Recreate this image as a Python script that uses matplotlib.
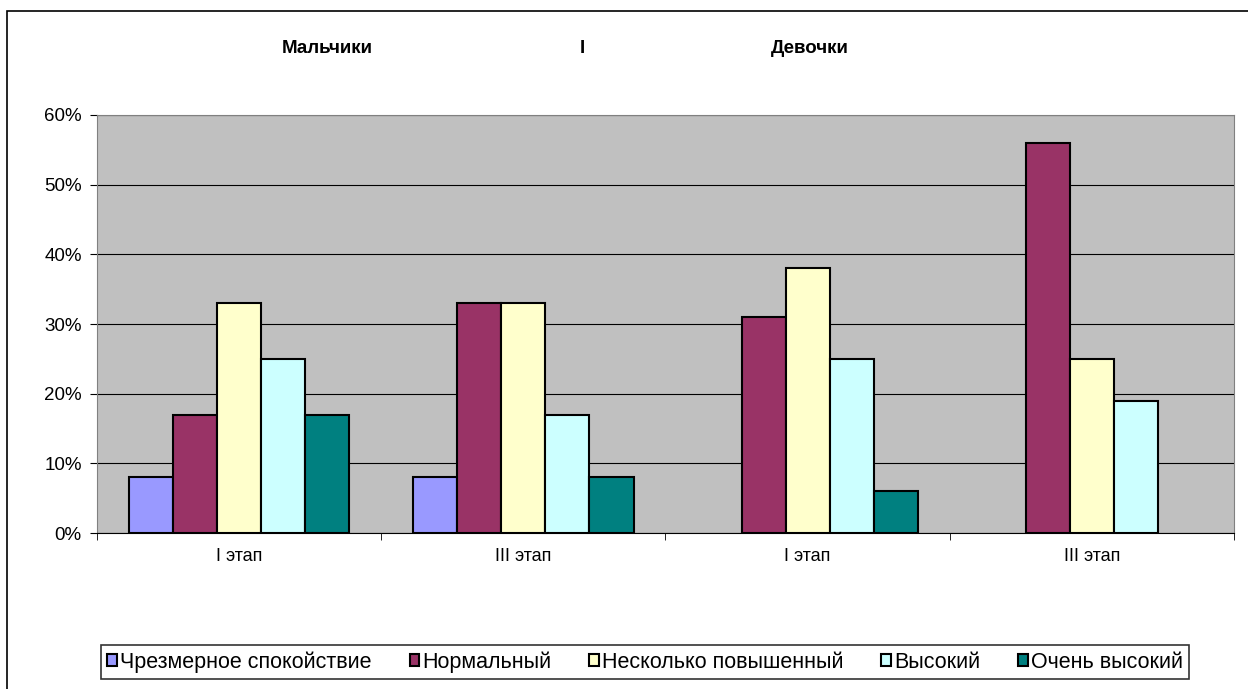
import numpy as np
import matplotlib.pyplot as plt
from matplotlib.patches import Rectangle
from matplotlib.ticker import FuncFormatter

plt.rcParams['font.family'] = ['Liberation Sans', 'DejaVu Sans']

# Категории и значения (в процентах)
categories = ["I этап", "III этап", "I этап", "III этап"]
series_names = ["Чрезмерное спокойствие", "Нормальный", "Несколько повышенный",
                "Высокий", "Очень высокий"]
calm = [8, 8, 0, 0]
normal = [17, 33, 31, 56]
slightly = [33, 33, 38, 25]
high = [25, 17, 25, 19]
very_high = [17, 8, 6, 0]
colors = ["#9999FF", "#993366", "#FFFFCC", "#CCFFFF", "#008080"]

fig = plt.figure(figsize=(12.48, 6.89), dpi=100)
# Рамка вокруг всей диаграммы (правый и нижний край за пределами картинки)
fig.patches.append(Rectangle((0.0056, -0.05), 1.1, 1.034, transform=fig.transFigure,
                             fill=False, edgecolor="black", linewidth=1.2))

ax = fig.add_axes([0.0777, 0.2264, 0.9111, 0.6067])
ax.set_facecolor("#C0C0C0")

x = np.arange(len(categories))
w = 0.155
all_series = [calm, normal, slightly, high, very_high]
for i, (vals, name, c) in enumerate(zip(all_series, series_names, colors)):
    # нулевые значения не рисуем
    h = np.where(np.array(vals) == 0, np.nan, vals)
    ax.bar(x + (i - 2) * w, h, w, color=c, edgecolor="black", linewidth=1.5,
           label=name, zorder=3)

ax.set_xlim(-0.5, len(categories) - 0.5)
ax.set_ylim(0, 60)
ax.set_yticks(range(0, 61, 10))
ax.yaxis.set_major_formatter(FuncFormatter(lambda v, p: "%d%%" % v))
ax.yaxis.grid(True, color="black", linewidth=0.8, zorder=1)
ax.set_xticks(x)
ax.set_xticklabels(categories)
ax.set_xticks(np.arange(-0.5, len(categories)), minor=True)
ax.tick_params(axis="x", which="major", length=0, pad=11, labelsize=13)
ax.tick_params(axis="x", which="minor", length=5, color="black")
ax.tick_params(axis="y", length=5, labelsize=13.5, pad=6)
for s in ["top", "right", "left"]:
    ax.spines[s].set_color("#808080")
ax.spines["bottom"].set_color("black")

fig.text(0.262, 0.93, "Мальчики", ha="center", va="center", fontsize=13.5, fontweight="bold")
fig.text(0.467, 0.93, "I", ha="center", va="center", fontsize=13.5, fontweight="bold")
fig.text(0.649, 0.93, "Девочки", ha="center", va="center", fontsize=13.5, fontweight="bold")

leg = fig.legend(loc="center", bbox_to_anchor=(0.517, 0.039), ncol=5, fontsize=15.5,
                 frameon=True, fancybox=False, edgecolor="black", handlelength=0.45,
                 handleheight=0.45, handletextpad=0.15, columnspacing=1.75, borderpad=0.3)
leg.get_frame().set_linewidth(1.2)

fig.savefig("out.png", dpi=100)
